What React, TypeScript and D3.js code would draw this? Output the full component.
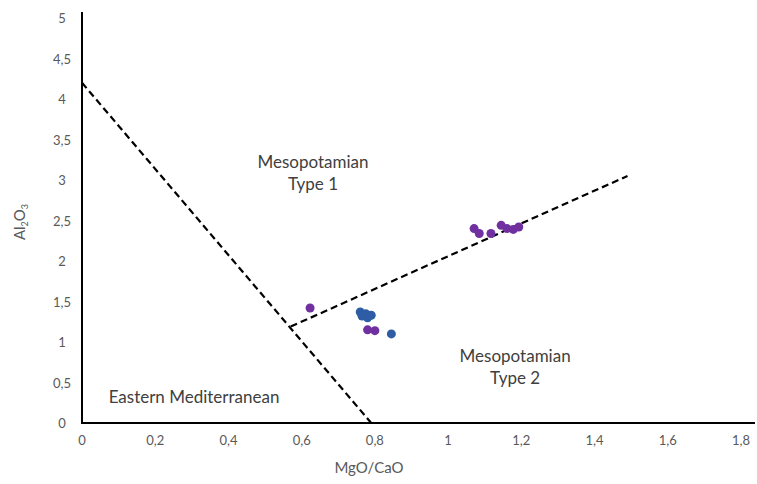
import * as d3 from "d3";

const xTicks = [0, 0.2, 0.4, 0.6, 0.8, 1, 1.2, 1.4, 1.6, 1.8];
const yTicks = [0, 0.5, 1, 1.5, 2, 2.5, 3, 3.5, 4, 4.5, 5];

// MgO/CaO, Al2O3
const purplePoints: [number, number][] = [
  [0.623, 1.42],
  [0.78, 1.15],
  [0.8, 1.14],
  [1.071, 2.4],
  [1.085, 2.34],
  [1.117, 2.34],
  [1.145, 2.44],
  [1.161, 2.4],
  [1.178, 2.39],
  [1.193, 2.42],
];
const bluePoints: [number, number][] = [
  [0.76, 1.37],
  [0.765, 1.32],
  [0.775, 1.35],
  [0.78, 1.3],
  [0.79, 1.33],
  [0.845, 1.1],
];

const boundaryA: [number, number][] = [
  [0, 4.2],
  [0.79, 0],
];
const boundaryB: [number, number][] = [
  [0.57, 1.19],
  [1.49, 3.05],
];

const fieldLabels = [
  { lines: ["Mesopotamian", "Type 1"], x: 0.631, y: 3.15 },
  { lines: ["Mesopotamian", "Type 2"], x: 1.183, y: 0.75 },
  { lines: ["Eastern Mediterranean"], x: 0.306, y: 0.25 },
];

const W = 757;
const H = 484;
const font = "Lato, 'Open Sans', sans-serif";
const grey = "#595959";

export default function App() {
  const x = d3.scaleLinear().domain([0, 1.8]).range([82, 741]);
  const y = d3.scaleLinear().domain([0, 5]).range([423, 18]);
  const line = d3
    .line<[number, number]>()
    .x((d) => x(d[0]))
    .y((d) => y(d[1]));

  return (
    <svg
      width={W}
      height={H}
      style={{ position: "absolute", left: 0, top: 0, background: "#fff" }}
      fontFamily={font}
    >
      {/* axes */}
      <line x1={x(0)} x2={755} y1={y(0)} y2={y(0)} stroke="#000" strokeWidth={2} />
      <line x1={x(0)} x2={x(0)} y1={y(0) + 1} y2={12} stroke="#000" strokeWidth={2} />

      {xTicks.map((t) => (
        <text
          key={"x" + t}
          x={x(t)}
          y={445}
          textAnchor="middle"
          fontSize={13}
          fill={grey}
        >
          {String(t).replace(".", ",")}
        </text>
      ))}
      {yTicks.map((t) => (
        <text
          key={"y" + t}
          x={62}
          y={y(t) + 5}
          textAnchor="middle"
          fontSize={13}
          fill={grey}
        >
          {String(t).replace(".", ",")}
        </text>
      ))}

      <text x={369} y={473} textAnchor="middle" fontSize={15} fill={grey}>
        MgO/CaO
      </text>
      <text
        transform={`translate(25,${222}) rotate(-90)`}
        textAnchor="middle"
        fontSize={15}
        fill={grey}
      >
        Al
        <tspan fontSize={9} dy={3}>2</tspan>
        <tspan dy={-3}>O</tspan>
        <tspan fontSize={9} dy={3}>3</tspan>
      </text>

      {/* field boundaries */}
      {[boundaryA, boundaryB].map((b, i) => (
        <path
          key={i}
          d={line(b) ?? ""}
          fill="none"
          stroke="#000"
          strokeWidth={2.2}
          strokeDasharray="7,4"
        />
      ))}

      {fieldLabels.map((l, i) => (
        <text
          key={i}
          x={x(l.x)}
          y={y(l.y)}
          textAnchor="middle"
          fontSize={17}
          fill="#404040"
        >
          {l.lines.map((s, j) => (
            <tspan key={j} x={x(l.x)} dy={j === 0 ? 0 : 22}>
              {s}
            </tspan>
          ))}
        </text>
      ))}

      {purplePoints.map((p, i) => (
        <circle key={"p" + i} cx={x(p[0])} cy={y(p[1])} r={4.5} fill="#7030A0" />
      ))}
      {bluePoints.map((p, i) => (
        <circle key={"b" + i} cx={x(p[0])} cy={y(p[1])} r={4.5} fill="#2E5DA6" />
      ))}
    </svg>
  );
}
